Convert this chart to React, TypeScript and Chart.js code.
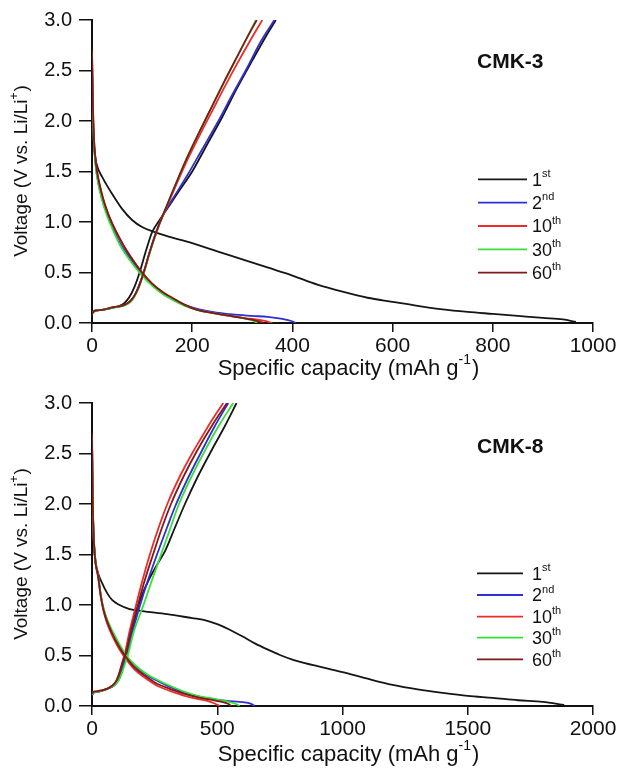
import React, { useEffect, useRef } from "react";
import { Chart, registerables } from "chart.js";

Chart.register(...registerables);

const FONT = "'Liberation Sans', Arial, Helvetica, sans-serif";

// ---------- shared labels / styles ----------
const CYCLE_NUMBERS = ["1", "2", "10", "30", "60"];
const CYCLE_SUFFIXES = ["st", "nd", "th", "th", "th"];
const CYCLE_COLORS = ["#151515", "#2f2fd4", "#ee2b2b", "#36e036", "#7e1a1a"];

const Y_TICKS = [0, 0.5, 1, 1.5, 2, 2.5, 3];
const CMK3_X_TICKS = [0, 200, 400, 600, 800, 1000];
const CMK8_X_TICKS = [0, 500, 1000, 1500, 2000];

// ---------- CMK-3 data: [capacity mAh/g, voltage V] ----------
const CMK3_1ST_DISCHARGE = [
  [0, 2.75], [1, 2.2], [3, 1.85], [7, 1.63], [12, 1.53], [20, 1.45], [30, 1.36], [40, 1.28],
  [60, 1.13], [80, 1.02], [100, 0.95], [125, 0.9], [150, 0.86], [200, 0.79], [250, 0.71],
  [300, 0.63], [350, 0.55], [400, 0.47], [450, 0.38], [500, 0.31], [550, 0.25], [600, 0.21],
  [650, 0.17], [700, 0.135], [750, 0.11], [800, 0.09], [850, 0.07], [900, 0.05], [940, 0.035],
  [966, 0.01],
];
const CMK3_1ST_CHARGE = [
  [0, 0.09], [5, 0.12], [20, 0.13], [40, 0.15], [55, 0.17], [65, 0.2], [75, 0.26], [85, 0.36],
  [95, 0.5], [108, 0.72], [120, 0.9], [135, 1.02], [150, 1.13], [170, 1.28], [200, 1.5],
  [230, 1.77], [260, 2.04], [290, 2.33], [320, 2.6], [345, 2.82], [367, 3.0],
];
const CMK3_2ND_DISCHARGE = [
  [0, 2.6], [2, 2.05], [4, 1.78], [7, 1.58], [10, 1.46], [20, 1.23], [30, 1.08], [40, 0.96],
  [55, 0.8], [70, 0.68], [85, 0.58], [100, 0.48], [120, 0.38], [140, 0.3], [160, 0.24],
  [185, 0.18], [210, 0.14], [240, 0.11], [280, 0.085], [320, 0.07], [350, 0.06], [380, 0.04],
  [398, 0.02], [407, 0.0],
];
const CMK3_2ND_CHARGE = [
  [0, 0.1], [5, 0.12], [20, 0.13], [40, 0.15], [55, 0.165], [70, 0.19], [80, 0.23], [88, 0.3],
  [96, 0.4], [105, 0.52], [115, 0.7], [128, 0.9], [143, 1.08], [160, 1.22], [190, 1.46],
  [220, 1.72], [250, 1.98], [280, 2.26], [310, 2.53], [335, 2.77], [364, 3.0],
];
const CMK3_10TH_DISCHARGE = [
  [0, 2.68], [2, 2.12], [4, 1.82], [7, 1.62], [10, 1.5], [20, 1.27], [30, 1.11], [40, 0.99],
  [55, 0.84], [70, 0.71], [85, 0.6], [100, 0.5], [120, 0.39], [140, 0.31], [160, 0.24],
  [185, 0.18], [210, 0.13], [240, 0.1], [280, 0.065], [320, 0.04], [345, 0.02], [360, 0.0],
];
const CMK3_10TH_CHARGE = [
  [0, 0.09], [5, 0.12], [20, 0.13], [40, 0.155], [55, 0.165], [65, 0.18], [75, 0.21], [82, 0.25],
  [88, 0.3], [95, 0.38], [103, 0.5], [112, 0.65], [122, 0.8], [135, 0.98], [150, 1.16],
  [170, 1.39], [190, 1.61], [215, 1.86], [240, 2.1], [265, 2.34], [290, 2.57], [315, 2.79],
  [340, 3.0],
];
const CMK3_30TH_DISCHARGE = [
  [0, 2.6], [2, 2.04], [4, 1.76], [7, 1.57], [10, 1.45], [20, 1.22], [30, 1.06], [40, 0.94],
  [55, 0.78], [70, 0.66], [85, 0.56], [100, 0.47], [120, 0.37], [140, 0.29], [160, 0.23],
  [185, 0.17], [210, 0.13], [240, 0.1], [270, 0.075], [300, 0.05], [320, 0.025], [330, 0.0],
];
const CMK3_30TH_CHARGE = [
  [0, 0.09], [5, 0.12], [20, 0.13], [40, 0.15], [55, 0.16], [65, 0.175], [75, 0.2], [82, 0.24],
  [88, 0.29], [95, 0.37], [103, 0.49], [112, 0.64], [122, 0.8], [135, 0.99], [150, 1.17],
  [170, 1.41], [190, 1.64], [215, 1.9], [240, 2.15], [265, 2.4], [290, 2.64], [310, 2.83],
  [327, 3.0],
];
const CMK3_60TH_DISCHARGE = [
  [0, 2.7], [2, 2.12], [4, 1.82], [7, 1.62], [10, 1.5], [20, 1.27], [30, 1.11], [40, 0.99],
  [55, 0.84], [70, 0.71], [85, 0.6], [100, 0.5], [120, 0.39], [140, 0.31], [160, 0.25],
  [185, 0.18], [210, 0.13], [240, 0.1], [270, 0.075], [300, 0.05], [325, 0.025], [343, 0.0],
];
const CMK3_60TH_CHARGE = [
  [0, 0.09], [5, 0.12], [20, 0.13], [40, 0.155], [55, 0.165], [65, 0.18], [75, 0.21], [82, 0.25],
  [88, 0.3], [95, 0.38], [103, 0.5], [112, 0.65], [122, 0.81], [135, 0.99], [150, 1.17],
  [170, 1.41], [190, 1.64], [215, 1.9], [240, 2.15], [265, 2.4], [290, 2.64], [310, 2.83],
  [329, 3.0],
];

// ---------- CMK-8 data ----------
const CMK8_1ST_DISCHARGE = [
  [0, 2.7], [3, 2.0], [8, 1.62], [15, 1.42], [25, 1.31], [40, 1.22], [60, 1.12], [80, 1.05],
  [110, 1.0], [150, 0.96], [200, 0.94], [300, 0.91], [400, 0.87], [450, 0.85], [500, 0.81],
  [550, 0.755], [600, 0.69], [650, 0.62], [700, 0.56], [750, 0.505], [800, 0.46], [850, 0.425],
  [900, 0.395], [950, 0.365], [1000, 0.335], [1100, 0.27], [1200, 0.21], [1300, 0.165],
  [1400, 0.13], [1500, 0.1], [1600, 0.08], [1700, 0.057], [1800, 0.04], [1885, 0.01],
];
const CMK8_1ST_CHARGE = [
  [0, 0.1], [5, 0.13], [20, 0.14], [40, 0.15], [60, 0.17], [80, 0.19], [95, 0.22], [108, 0.27],
  [118, 0.34], [128, 0.43], [140, 0.54], [160, 0.74], [180, 0.95], [200, 1.1], [225, 1.24],
  [260, 1.4], [291, 1.53], [330, 1.76], [371, 2.0], [420, 2.26], [477, 2.53], [530, 2.77],
  [577, 3.0],
];
const CMK8_2ND_DISCHARGE = [
  [0, 2.65], [2, 2.2], [4, 1.9], [8, 1.6], [14, 1.42], [24, 1.3], [35, 1.1], [45, 0.97],
  [60, 0.85], [84, 0.72], [110, 0.6], [137, 0.49], [170, 0.4], [217, 0.31], [260, 0.25],
  [311, 0.19], [370, 0.13], [431, 0.09], [490, 0.065], [540, 0.05], [590, 0.04], [630, 0.025],
  [650, 0.0],
];
const CMK8_2ND_CHARGE = [
  [0, 0.11], [5, 0.13], [20, 0.14], [40, 0.15], [60, 0.17], [80, 0.19], [95, 0.22], [108, 0.27],
  [118, 0.34], [128, 0.43], [140, 0.52], [160, 0.72], [191, 0.99], [220, 1.22], [264, 1.53],
  [300, 1.77], [331, 1.97], [380, 2.24], [437, 2.52], [490, 2.77], [544, 3.0],
];
const CMK8_10TH_DISCHARGE = [
  [0, 2.68], [2, 2.2], [4, 1.9], [8, 1.6], [14, 1.42], [24, 1.28], [35, 1.08], [45, 0.95],
  [60, 0.82], [84, 0.68], [110, 0.56], [137, 0.46], [170, 0.36], [217, 0.27], [260, 0.2],
  [311, 0.15], [370, 0.1], [431, 0.065], [460, 0.05], [490, 0.025], [510, 0.0],
];
const CMK8_10TH_CHARGE = [
  [0, 0.12], [5, 0.14], [20, 0.145], [40, 0.155], [60, 0.17], [80, 0.2], [95, 0.24], [105, 0.3],
  [115, 0.38], [124, 0.46], [131, 0.52], [150, 0.74], [175, 0.99], [200, 1.23], [231, 1.5],
  [265, 1.76], [304, 2.02], [350, 2.27], [404, 2.52], [440, 2.67], [471, 2.8], [500, 2.91],
  [524, 3.0],
];
const CMK8_30TH_DISCHARGE = [
  [0, 2.65], [2, 2.2], [4, 1.9], [8, 1.6], [14, 1.42], [24, 1.3], [35, 1.1], [45, 0.98],
  [60, 0.86], [84, 0.73], [110, 0.61], [137, 0.5], [170, 0.41], [217, 0.32], [260, 0.26],
  [311, 0.2], [370, 0.14], [431, 0.095], [490, 0.07], [540, 0.045], [575, 0.02], [590, 0.0],
];
const CMK8_30TH_CHARGE = [
  [0, 0.11], [5, 0.13], [20, 0.14], [40, 0.15], [60, 0.17], [80, 0.19], [95, 0.22], [108, 0.26],
  [120, 0.33], [132, 0.42], [145, 0.52], [165, 0.72], [204, 0.99], [240, 1.25], [277, 1.51],
  [310, 1.74], [344, 1.98], [395, 2.26], [451, 2.53], [505, 2.77], [564, 3.0],
];
const CMK8_60TH_DISCHARGE = [
  [0, 2.7], [2, 2.2], [4, 1.9], [8, 1.6], [14, 1.42], [24, 1.29], [35, 1.09], [45, 0.96],
  [60, 0.84], [84, 0.7], [110, 0.58], [137, 0.48], [170, 0.38], [217, 0.29], [260, 0.22],
  [311, 0.17], [370, 0.12], [431, 0.08], [480, 0.06], [520, 0.04], [545, 0.02], [555, 0.0],
];
const CMK8_60TH_CHARGE = [
  [0, 0.12], [5, 0.14], [20, 0.145], [40, 0.155], [60, 0.17], [80, 0.2], [95, 0.24], [106, 0.3],
  [116, 0.38], [126, 0.46], [135, 0.52], [155, 0.74], [182, 0.99], [210, 1.24], [245, 1.51],
  [280, 1.77], [317, 2.01], [365, 2.27], [420, 2.53], [480, 2.78], [539, 3.0],
];

const CMK3_CYCLES = [
  [CMK3_1ST_DISCHARGE, CMK3_1ST_CHARGE],
  [CMK3_2ND_DISCHARGE, CMK3_2ND_CHARGE],
  [CMK3_10TH_DISCHARGE, CMK3_10TH_CHARGE],
  [CMK3_30TH_DISCHARGE, CMK3_30TH_CHARGE],
  [CMK3_60TH_DISCHARGE, CMK3_60TH_CHARGE],
];
const CMK8_CYCLES = [
  [CMK8_1ST_DISCHARGE, CMK8_1ST_CHARGE],
  [CMK8_2ND_DISCHARGE, CMK8_2ND_CHARGE],
  [CMK8_10TH_DISCHARGE, CMK8_10TH_CHARGE],
  [CMK8_30TH_DISCHARGE, CMK8_30TH_CHARGE],
  [CMK8_60TH_DISCHARGE, CMK8_60TH_CHARGE],
];

type PanelSpec = {
  name: string;
  cycles: number[][][][];
  xMax: number;
  xTicks: number[];
  height: number;
  xTitleY: number;
  nameY: number;
  legendX0: number;
  legendX1: number;
  legendRows: number[];
};

function drawRich(
  ctx: CanvasRenderingContext2D,
  parts: { t: string; sup?: boolean }[],
  x: number,
  y: number,
  size: number,
  align: "left" | "center"
) {
  const supSize = Math.round(size * 0.62);
  let total = 0;
  const widths = parts.map((p) => {
    ctx.font = `${p.sup ? supSize : size}px ${FONT}`;
    const w = ctx.measureText(p.t).width;
    total += w;
    return w;
  });
  let cx = align === "center" ? x - total / 2 : x;
  ctx.textBaseline = "middle";
  ctx.textAlign = "left";
  parts.forEach((p, i) => {
    ctx.font = `${p.sup ? supSize : size}px ${FONT}`;
    ctx.fillText(p.t, cx, p.sup ? y - size * 0.38 : y);
    cx += widths[i] + (p.sup ? 1 : 0);
  });
}

function makeDecorPlugin(spec: PanelSpec) {
  return {
    id: "decor_" + spec.name,
    afterDraw(chart: Chart) {
      const ctx = chart.ctx;
      ctx.save();
      ctx.fillStyle = "#111";
      // x axis title
      drawRich(
        ctx,
        [{ t: "Specific capacity (mAh g" }, { t: "-1", sup: true }, { t: ")" }],
        348,
        spec.xTitleY,
        22,
        "center"
      );
      // y axis title (rotated)
      ctx.save();
      ctx.translate(22, 171.5);
      ctx.rotate(-Math.PI / 2);
      drawRich(ctx, [{ t: "Voltage (V vs. Li/Li" }, { t: "+", sup: true }, { t: ")" }], 0, 0, 19, "center");
      ctx.restore();
      // panel name
      ctx.font = `bold 21px ${FONT}`;
      ctx.textAlign = "left";
      ctx.textBaseline = "middle";
      ctx.fillText(spec.name, 477, spec.nameY);
      // legend
      spec.legendRows.forEach((ry, i) => {
        ctx.strokeStyle = CYCLE_COLORS[i];
        ctx.lineWidth = 1.8;
        ctx.beginPath();
        ctx.moveTo(spec.legendX0, ry);
        ctx.lineTo(spec.legendX1, ry);
        ctx.stroke();
        ctx.fillStyle = "#111";
        drawRich(ctx, [{ t: CYCLE_NUMBERS[i] }, { t: CYCLE_SUFFIXES[i], sup: true }], 532, ry + 1.5, 18, "left");
      });
      ctx.restore();
    },
  };
}

function buildConfig(spec: PanelSpec): any {
  const datasets: any[] = [];
  spec.cycles.forEach((pair, i) => {
    pair.forEach((curve) => {
      datasets.push({
        data: curve.map(([x, y]) => ({ x, y })),
        borderColor: CYCLE_COLORS[i],
        borderWidth: 1.8,
        pointRadius: 0,
        fill: false,
        cubicInterpolationMode: "monotone",
        order: 10 - i,
      });
    });
  });
  const axisColor = "#111";
  return {
    type: "line",
    data: { datasets },
    options: {
      responsive: false,
      animation: false,
      devicePixelRatio: 1,
      layout: { padding: { left: 0, right: 26, top: 20, bottom: 0 } },
      plugins: { legend: { display: false }, tooltip: { enabled: false }, title: { display: false } },
      scales: {
        x: {
          type: "linear",
          min: 0,
          max: spec.xMax,
          afterBuildTicks: (s: any) => {
            s.ticks = spec.xTicks.map((v) => ({ value: v }));
          },
          afterFit: (s: any) => {
            s.height = spec.height - 323;
            s.paddingLeft = 0;
            s.paddingRight = 0;
          },
          ticks: {
            font: { family: FONT, size: 21 },
            color: axisColor,
            padding: 2,
            maxRotation: 0,
            autoSkip: false,
            callback: (v: any) => String(v),
          },
          grid: { drawOnChartArea: false, drawTicks: true, tickLength: 9, color: axisColor, lineWidth: 1.5 },
          border: { display: true, color: axisColor, width: 2 },
        },
        y: {
          type: "linear",
          min: 0,
          max: 3,
          afterBuildTicks: (s: any) => {
            s.ticks = Y_TICKS.map((v) => ({ value: v }));
          },
          afterFit: (s: any) => {
            s.width = 92;
            s.paddingTop = 0;
            s.paddingBottom = 0;
          },
          ticks: {
            font: { family: FONT, size: 20 },
            color: axisColor,
            padding: 7,
            callback: (v: any) => Number(v).toFixed(1),
          },
          grid: { drawOnChartArea: false, drawTicks: true, tickLength: 13, color: axisColor, lineWidth: 1.5 },
          border: { display: true, color: axisColor, width: 2 },
        },
      },
    },
    plugins: [makeDecorPlugin(spec)],
  };
}

const TOP_SPEC: PanelSpec = {
  name: "CMK-3",
  cycles: CMK3_CYCLES,
  xMax: 1000,
  xTicks: CMK3_X_TICKS,
  height: 383,
  xTitleY: 369,
  nameY: 62,
  legendX0: 478,
  legendX1: 527,
  legendRows: [179.3, 202.7, 226, 249.3, 272.7],
};

const BOTTOM_SPEC: PanelSpec = {
  name: "CMK-8",
  cycles: CMK8_CYCLES,
  xMax: 2000,
  xTicks: CMK8_X_TICKS,
  height: 385,
  xTitleY: 372,
  nameY: 64,
  legendX0: 477,
  legendX1: 523,
  legendRows: [190.3, 212, 233.7, 254.7, 276.3],
};

function Panel({ spec, top }: { spec: PanelSpec; top: number }) {
  const ref = useRef<HTMLCanvasElement | null>(null);
  useEffect(() => {
    if (!ref.current) return;
    const chart = new Chart(ref.current, buildConfig(spec));
    return () => chart.destroy();
  }, [spec]);
  return (
    <canvas
      ref={ref}
      width={619}
      height={spec.height}
      style={{ position: "absolute", left: 0, top, width: 619, height: spec.height, display: "block" }}
    />
  );
}

export default function App() {
  return (
    <div style={{ position: "absolute", left: 0, top: 0, width: 619, height: 768, background: "#fff" }}>
      <Panel spec={TOP_SPEC} top={0} />
      <Panel spec={BOTTOM_SPEC} top={383} />
    </div>
  );
}
